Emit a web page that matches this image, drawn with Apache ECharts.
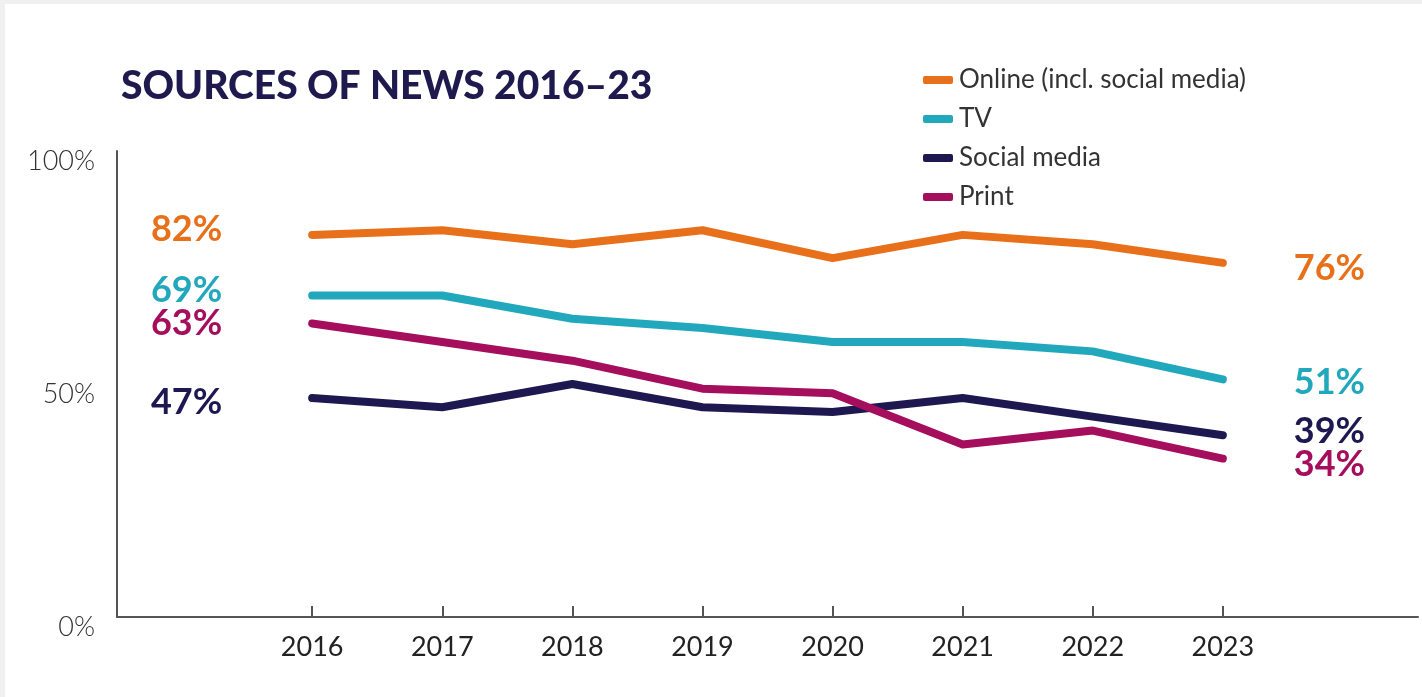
<!DOCTYPE html>
<html>
<head>
<meta charset="utf-8">
<script src="https://cdn.jsdelivr.net/npm/echarts@6/dist/echarts.min.js"></script>
<style>
  html, body { margin: 0; padding: 0; background: #f0f0f0; width: 1422px; height: 697px; overflow: hidden; }
  #chart { position: absolute; left: 5px; top: 4px; width: 1417px; height: 693px; background: #ffffff; }
</style>
</head>
<body>
<div id="chart"></div>
<script>
// ---- data ----
const years = [2016, 2017, 2018, 2019, 2020, 2021, 2022, 2023];
const seriesNames = ['Online (incl. social media)', 'TV', 'Social media', 'Print'];
const online = [82, 83, 80, 83, 77, 82, 80, 76];
const tv = [69, 69, 64, 62, 59, 59, 57, 51];
const social = [47, 45, 50, 45, 44, 47, 43, 39];
const print = [63, 59, 55, 49, 48, 37, 40, 34];
const yTicks = [0, 50, 100];
const titleText = 'SOURCES OF NEWS 2016–23';

// ---- styling ----
const colors = ['#E8701A', '#22A8BC', '#1E1850', '#A50E5D'];
// vertical nudges for first / last value labels (series order)
const startOffsets = [-5, -5, 4, 0];
const endOffsets = [6, 3, -4, 6];

const allValues = [online, tv, social, print];

function buildData(values, idx) {
  return values.map((v, i) => {
    const item = { value: [years[i], v] };
    if (i === 0) {
      item.label = { show: true, position: 'left', distance: 90 };
    } else if (i === values.length - 1) {
      item.label = { show: true, position: 'right', distance: 71 };
    }
    return item;
  });
}

const chart = echarts.init(document.getElementById('chart'), null, { renderer: 'canvas' });

const option = {
  animation: false,
  title: {
    text: titleText,
    left: 111,
    top: 57,
    textStyle: {
      fontFamily: 'Lato',
      fontWeight: 900,
      fontSize: 39,
      lineHeight: 40,
      color: '#1F1A4E'
    }
  },
  legend: {
    orient: 'vertical',
    left: 913,
    top: 58,
    itemWidth: 30,
    itemHeight: 8,
    itemGap: 13,
    icon: 'roundRect',
    data: seriesNames,
    textStyle: {
      fontFamily: 'Lato',
      fontSize: 26,
      lineHeight: 26,
      color: '#333333',
      padding: [0, 0, 0, 1]
    }
  },
  grid: {
    left: 112,
    right: 4,
    top: 147,
    bottom: 80,
    containLabel: false
  },
  xAxis: {
    type: 'value',
    min: 2014.5,
    max: 2024.5,
    splitLine: { show: false },
    axisLine: { show: true, lineStyle: { color: '#555555', width: 2 } },
    axisTick: {
      show: true,
      inside: true,
      length: 11,
      customValues: years,
      lineStyle: { color: '#555555', width: 2 }
    },
    axisLabel: {
      customValues: years,
      fontFamily: 'Lato',
      fontSize: 27,
      color: '#222222',
      margin: 17,
      formatter: v => String(v)
    }
  },
  yAxis: {
    type: 'value',
    min: 0,
    max: 100,
    interval: 50,
    splitLine: { show: false },
    axisLine: { show: true, lineStyle: { color: '#555555', width: 2 } },
    axisTick: { show: false },
    axisLabel: {
      fontFamily: 'Lato',
      fontWeight: 300,
      fontSize: 27,
      color: '#333333',
      margin: 22,
      verticalAlign: 'top',
      lineHeight: 20,
      formatter: v => yTicks.includes(v) ? v + '%' : ''
    }
  },
  series: seriesNames.map((name, idx) => ({
    name: name,
    type: 'line',
    symbol: 'circle',
    symbolSize: 0.01,
    showSymbol: true,
    showAllSymbol: true,
    color: colors[idx],
    itemStyle: { color: colors[idx] },
    lineStyle: { width: 8, color: colors[idx], cap: 'round', join: 'round' },
    label: {
      show: false,
      fontFamily: 'Lato',
      fontWeight: 700,
      fontSize: 36,
      color: colors[idx],
      formatter: p => p.value[1] + '%'
    },
    labelLayout: p => ({
      hideOverlap: false,
      dy: p.dataIndex === 0 ? startOffsets[idx] : endOffsets[idx]
    }),
    emphasis: { disabled: true },
    data: buildData(allValues[idx], idx),
    z: 2 + idx
  }))
};

chart.setOption(option);
</script>
</body>
</html>
